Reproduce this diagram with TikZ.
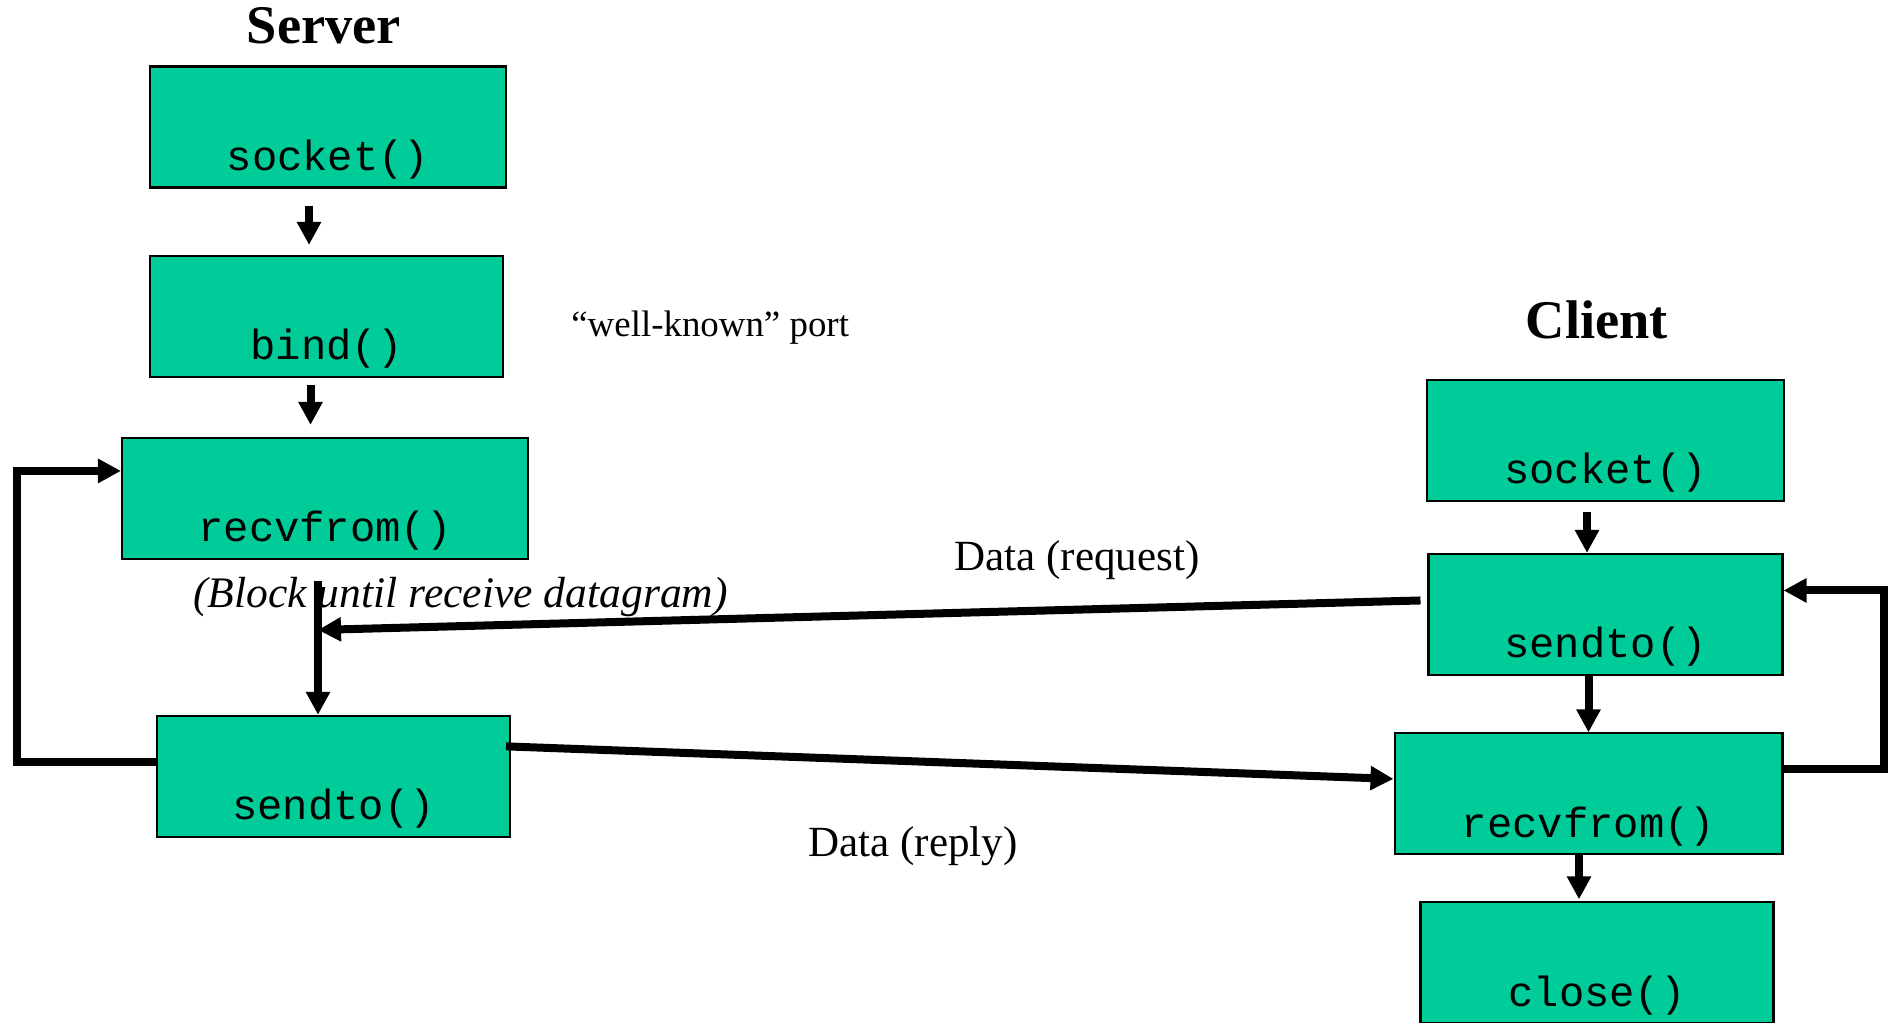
\documentclass[tikz,border=0pt]{standalone}
\usepackage{fontspec}
\setmainfont{Liberation Serif}
\setmonofont{Liberation Mono}
\usetikzlibrary{arrows.meta,positioning}
\definecolor{boxgreen}{RGB}{0,204,153}
\tikzset{
  fnbox/.style={draw=black, line width=1.2pt, fill=boxgreen, inner sep=0pt,
    minimum height=2.42cm, text height=2.08cm, text depth=0.34cm,
    font=\ttfamily\fontsize{24}{28}\selectfont},
  flow/.style={line width=0.16cm, -{Triangle[width=0.46cm,length=0.46cm]}},
  side/.style={font=\bfseries\fontsize{31}{36}\selectfont, inner sep=0pt},
  note/.style={inner sep=0pt, anchor=base west}
}

\begin{document}
\begin{tikzpicture}[x=0.02cm, y=-0.02cm, on grid, auto]
  \useasboundingbox (0,0) rectangle (1894,1023);
  % server
  \node[side, anchor=base] (srvtitle) at (324,44) {Server};
  \node[fnbox, minimum width=7.12cm] (ssock) at (328,127) {socket()};
  \node[fnbox, minimum width=7.06cm] (sbind) [below=3.79cm of ssock, xshift=-0.03cm] {bind()};
  \node[fnbox, minimum width=8.12cm] (srecv) [below=3.64cm of sbind, xshift=-0.03cm] {recvfrom()};
  \node[fnbox, minimum width=7.06cm] (ssend) [below=5.56cm of srecv, xshift=0.17cm] {sendto()};
  % client
  \node[side, anchor=base] (clititle) at (1597,339) {Client};
  \node[fnbox, minimum width=7.14cm] (csock) at (1605.5,440.5) {socket()};
  \node[fnbox, minimum width=7.08cm] (csend) [below=3.48cm of csock] {sendto()};
  \node[fnbox, minimum width=7.76cm] (crecv) [below=3.59cm of csend, xshift=-0.34cm] {recvfrom()};
  \node[fnbox, minimum width=7.06cm] (cclose) [below=3.38cm of crecv, xshift=0.17cm] {close()};
  % labels
  \node[note, font=\fontsize{21}{25}\selectfont] (port) at (571,337) {“well-known” port};
  \node[note, font=\itshape\fontsize{24.8}{29}\selectfont] (blktxt) at (193,608) {(Block until receive datagram)};
  \node[note, font=\fontsize{24.5}{29}\selectfont] (reqtxt) at (954,571) {Data (request)};
  \node[note, font=\fontsize{24.5}{29}\selectfont] (reptxt) at (808,856) {Data (reply)};
  % server flow
  \draw[flow, shorten <=0.34cm, shorten >=0.2cm] ([xshift=-0.38cm]ssock.south) -- ([xshift=-0.38cm]ssock.south |- sbind.north);
  \draw[flow, shorten <=0.14cm, shorten >=0.24cm] ([xshift=-0.32cm]sbind.south) -- ([xshift=-0.32cm]sbind.south |- srecv.north);
  \coordinate (blk) at ([xshift=-0.14cm, yshift=-0.42cm]srecv.south);
  \coordinate (rq) at ([yshift=-0.98cm]blk);
  \draw[flow] (blk) -- (blk |- ssend.north);
  \draw[flow] ([yshift=0.29cm]ssend.west) -- ++(-139,0) |- ([yshift=0.55cm]srecv.west);
  % client flow
  \draw[flow, shorten <=0.2cm] ([xshift=-0.37cm]csock.south) -- ([xshift=-0.37cm]csock.south |- csend.north);
  \draw[flow] ([xshift=-0.34cm]csend.south) -- ([xshift=-0.34cm]csend.south |- crecv.north);
  \draw[flow, shorten >=0.04cm] ([xshift=-0.19cm]crecv.south) -- ([xshift=-0.19cm]crecv.south |- cclose.north);
  \draw[flow] ([xshift=-0.06cm, yshift=0.49cm]crecv.east) -- ++(103,0) |- ([yshift=0.48cm]csend.east);
  % datagrams
  \draw[flow] ([xshift=-0.14cm, yshift=0.28cm]csend.west) -- (rq);
  \draw[flow] ([xshift=-0.1cm, yshift=0.6cm]ssend.east) -- ([yshift=0.3cm]crecv.west);
\end{tikzpicture}
\end{document}
